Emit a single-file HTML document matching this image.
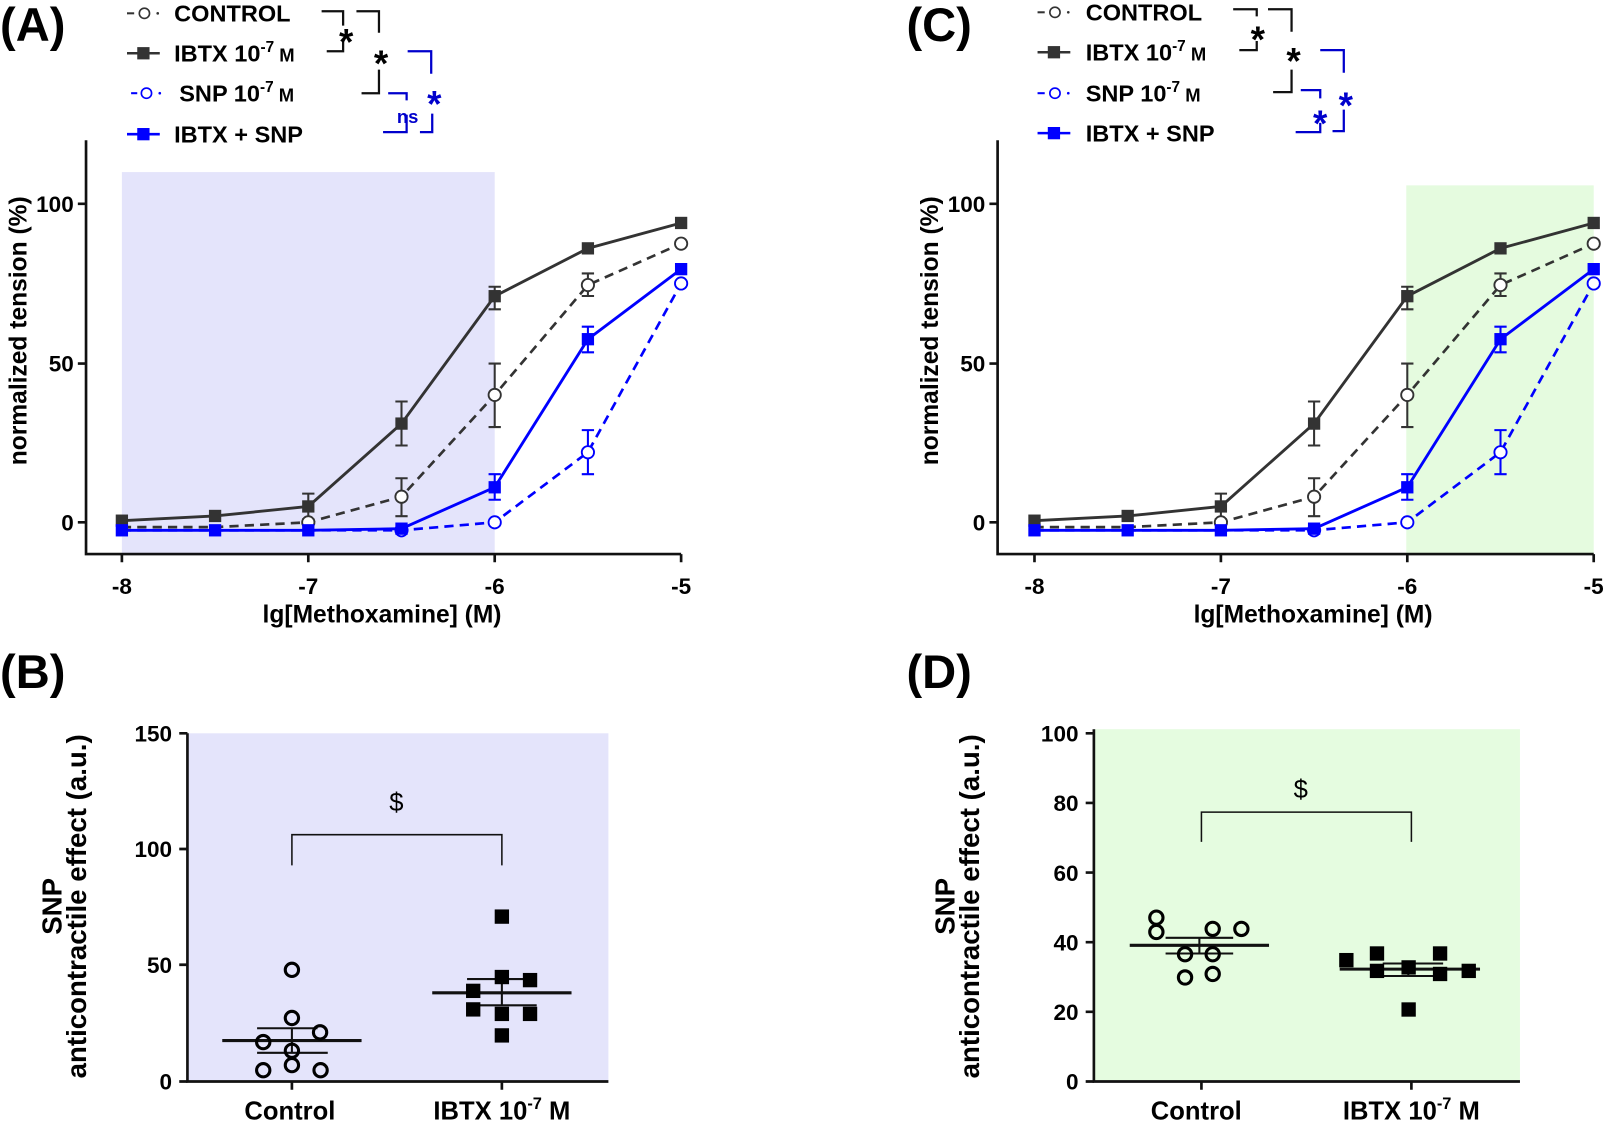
<!DOCTYPE html>
<html><head><meta charset="utf-8"><style>
html,body{margin:0;padding:0;background:#fff;}
svg{display:block;font-family:"Liberation Sans",Arial,sans-serif;font-weight:bold;}
</style></head><body>
<svg width="1606" height="1124" viewBox="0 0 1568 1097.5" preserveAspectRatio="none" xmlns="http://www.w3.org/2000/svg">
<text x="0" y="40" font-size="46">(A)</text>
<text x="0" y="672" font-size="46">(B)</text>
<text x="885" y="40" font-size="46">(C)</text>
<text x="885" y="672" font-size="46">(D)</text>

<rect x="119" y="168" width="364" height="373" fill="#e4e4fb"/>
<rect x="1373" y="181" width="183" height="360" fill="#e5fbdf"/>
<rect x="183" y="716" width="411" height="340" fill="#e4e4fb"/>
<rect x="1068" y="712" width="416" height="344" fill="#e5fce0"/>

<!-- ===== Panel A ===== -->
<g stroke="#111" stroke-width="2.6" fill="none">
<path d="M84,137 V541 H665"/>
<path d="M76,510 H84 M76,355 H84 M76,199 H84"/>
<path d="M119,541 V549 M301,541 V549 M483,541 V549 M665,541 V549"/>
</g>
<g font-size="22" text-anchor="end">
<text x="72" y="518">0</text><text x="72" y="363">50</text><text x="72" y="207">100</text>
</g>
<g font-size="22" text-anchor="middle">
<text x="119" y="580">-8</text><text x="301" y="580">-7</text><text x="483" y="580">-6</text><text x="665" y="580">-5</text>
<text x="373" y="608" font-size="24">lg[Methoxamine] (M)</text>
<text transform="translate(26,323) rotate(-90)" font-size="24">normalized tension (%)</text>
</g>

<g>
<g stroke="#333" stroke-width="2">
<path d="M392,435 V392 M386,435 H398 M386,392 H398"/>
<path d="M483,302 V280 M477,302 H489 M477,280 H489"/>
<path d="M301,507 V482 M295,507 H307 M295,482 H307"/>
<path d="M392,504 V467 M386,504 H398 M386,467 H398"/>
<path d="M483,417 V355 M477,417 H489 M477,355 H489"/>
<path d="M574,289 V267 M568,289 H580 M568,267 H580"/>
</g>
<g stroke="#0000ff" stroke-width="2">
<path d="M574,463 V420 M568,463 H580 M568,420 H580"/>
<path d="M483,488 V463 M477,488 H489 M477,463 H489"/>
<path d="M574,344 V319 M568,344 H580 M568,319 H580"/>
</g>
<polyline fill="none" stroke="#333" stroke-width="2.6" stroke-dasharray="9,6" points="119,514.7 210,514.7 301,510 392,485 483,385.6 574,278.3 665,237.9"/>
<polyline fill="none" stroke="#0000ff" stroke-width="2.6" stroke-dasharray="9,6" points="119,517.8 210,517.8 301,517.8 392,517.8 483,510 574,441.6 665,276.8"/>
<polyline fill="none" stroke="#333" stroke-width="2.8" points="119,508.4 210,503.8 301,494.5 392,413.6 483,289.2 574,242.5 665,217.7"/>
<polyline fill="none" stroke="#0000ff" stroke-width="2.8" points="119,517.8 210,517.8 301,517.8 392,516.2 483,475.8 574,331.2 665,262.8"/>
<g fill="#fff" stroke="#333" stroke-width="1.8">
<circle cx="301" cy="510" r="6"/><circle cx="392" cy="485" r="6"/><circle cx="483" cy="385.6" r="6"/><circle cx="574" cy="278.3" r="6"/><circle cx="665" cy="237.9" r="6"/>
</g>
<g fill="#fff" stroke="#0000ff" stroke-width="1.8">
<circle cx="392" cy="517.8" r="6"/><circle cx="483" cy="510" r="6"/><circle cx="574" cy="441.6" r="6"/><circle cx="665" cy="276.8" r="6"/>
</g>
<g fill="#333">
<rect x="113" y="502.4" width="12" height="12"/><rect x="204" y="497.8" width="12" height="12"/><rect x="295" y="488.5" width="12" height="12"/><rect x="386" y="407.6" width="12" height="12"/><rect x="477" y="283.2" width="12" height="12"/><rect x="568" y="236.5" width="12" height="12"/><rect x="659" y="211.7" width="12" height="12"/>
</g>
<g fill="#0000ff">
<rect x="113" y="511.8" width="12" height="12"/><rect x="204" y="511.8" width="12" height="12"/><rect x="295" y="511.8" width="12" height="12"/><rect x="386" y="510.2" width="12" height="12"/><rect x="477" y="469.8" width="12" height="12"/><rect x="568" y="325.2" width="12" height="12"/><rect x="659" y="256.8" width="12" height="12"/>
</g>
</g>

<!-- Legend A -->
<g font-size="23">
<path d="M124,13 H131" stroke="#333" stroke-width="2"/><circle cx="141" cy="13" r="5" fill="#fff" stroke="#333" stroke-width="1.6"/><circle cx="154" cy="13" r="1.3" fill="#333"/>
<text x="170" y="21">CONTROL</text>
<path d="M124,52 H156" stroke="#333" stroke-width="2.5"/><rect x="134" y="46" width="12" height="12" fill="#333"/>
<text x="170" y="60">IBTX 10<tspan font-size="15" dy="-9">-7</tspan><tspan font-size="18" dy="9"> M</tspan></text>
<path d="M128,91 H134" stroke="#0000ff" stroke-width="2"/><circle cx="143" cy="91" r="5" fill="#fff" stroke="#0000ff" stroke-width="1.6"/><circle cx="156" cy="91" r="1.3" fill="#0000ff"/>
<text x="175" y="99">SNP  10<tspan font-size="15" dy="-9">-7</tspan><tspan font-size="18" dy="9"> M</tspan></text>
<path d="M124,131 H156" stroke="#0000ff" stroke-width="2.5"/><rect x="134" y="125" width="12" height="12" fill="#0000ff"/>
<text x="170" y="139">IBTX + SNP</text>
</g>
<g fill="none" stroke="#111" stroke-width="2.2">
<path d="M314,11 H335 V25 M319,50 H335 V40"/>
<path d="M348,11 H370 V32 M353,91 H370 V68"/>
</g>
<g fill="none" stroke="#0000cc" stroke-width="2.2">
<path d="M398,50 H421 V72 M410,129 H422 V111"/>
<path d="M379,91 H397 V98 M374,129 H397 V112"/>
</g>
<text x="338" y="53" font-size="36" text-anchor="middle">*</text>
<text x="372" y="74" font-size="36" text-anchor="middle">*</text>
<text x="424" y="114" font-size="36" text-anchor="middle" fill="#0000cc">*</text>
<text x="398" y="120" font-size="18" text-anchor="middle" fill="#0000cc">ns</text>

<!-- ===== Panel C ===== -->
<g stroke="#111" stroke-width="2.6" fill="none">
<path d="M974,137 V541 H1556"/>
<path d="M966,510 H974 M966,355 H974 M966,199 H974"/>
<path d="M1010,541 V549 M1192,541 V549 M1374,541 V549 M1556,541 V549"/>
</g>
<g font-size="22" text-anchor="end">
<text x="962" y="518">0</text><text x="962" y="363">50</text><text x="962" y="207">100</text>
</g>
<g font-size="22" text-anchor="middle">
<text x="1010" y="580">-8</text><text x="1192" y="580">-7</text><text x="1374" y="580">-6</text><text x="1556" y="580">-5</text>
<text x="1282" y="608" font-size="24">lg[Methoxamine] (M)</text>
<text transform="translate(916,323) rotate(-90)" font-size="24">normalized tension (%)</text>
</g>
<g transform="translate(891,0)">
<g stroke="#333" stroke-width="2">
<path d="M392,435 V392 M386,435 H398 M386,392 H398"/>
<path d="M483,302 V280 M477,302 H489 M477,280 H489"/>
<path d="M301,507 V482 M295,507 H307 M295,482 H307"/>
<path d="M392,504 V467 M386,504 H398 M386,467 H398"/>
<path d="M483,417 V355 M477,417 H489 M477,355 H489"/>
<path d="M574,289 V267 M568,289 H580 M568,267 H580"/>
</g>
<g stroke="#0000ff" stroke-width="2">
<path d="M574,463 V420 M568,463 H580 M568,420 H580"/>
<path d="M483,488 V463 M477,488 H489 M477,463 H489"/>
<path d="M574,344 V319 M568,344 H580 M568,319 H580"/>
</g>
<polyline fill="none" stroke="#333" stroke-width="2.6" stroke-dasharray="9,6" points="119,514.7 210,514.7 301,510 392,485 483,385.6 574,278.3 665,237.9"/>
<polyline fill="none" stroke="#0000ff" stroke-width="2.6" stroke-dasharray="9,6" points="119,517.8 210,517.8 301,517.8 392,517.8 483,510 574,441.6 665,276.8"/>
<polyline fill="none" stroke="#333" stroke-width="2.8" points="119,508.4 210,503.8 301,494.5 392,413.6 483,289.2 574,242.5 665,217.7"/>
<polyline fill="none" stroke="#0000ff" stroke-width="2.8" points="119,517.8 210,517.8 301,517.8 392,516.2 483,475.8 574,331.2 665,262.8"/>
<g fill="#fff" stroke="#333" stroke-width="1.8">
<circle cx="301" cy="510" r="6"/><circle cx="392" cy="485" r="6"/><circle cx="483" cy="385.6" r="6"/><circle cx="574" cy="278.3" r="6"/><circle cx="665" cy="237.9" r="6"/>
</g>
<g fill="#fff" stroke="#0000ff" stroke-width="1.8">
<circle cx="392" cy="517.8" r="6"/><circle cx="483" cy="510" r="6"/><circle cx="574" cy="441.6" r="6"/><circle cx="665" cy="276.8" r="6"/>
</g>
<g fill="#333">
<rect x="113" y="502.4" width="12" height="12"/><rect x="204" y="497.8" width="12" height="12"/><rect x="295" y="488.5" width="12" height="12"/><rect x="386" y="407.6" width="12" height="12"/><rect x="477" y="283.2" width="12" height="12"/><rect x="568" y="236.5" width="12" height="12"/><rect x="659" y="211.7" width="12" height="12"/>
</g>
<g fill="#0000ff">
<rect x="113" y="511.8" width="12" height="12"/><rect x="204" y="511.8" width="12" height="12"/><rect x="295" y="511.8" width="12" height="12"/><rect x="386" y="510.2" width="12" height="12"/><rect x="477" y="469.8" width="12" height="12"/><rect x="568" y="325.2" width="12" height="12"/><rect x="659" y="256.8" width="12" height="12"/>
</g>
</g>

<!-- Legend C -->
<g font-size="23">
<path d="M1013,12 H1020" stroke="#333" stroke-width="2"/><circle cx="1030" cy="12" r="5" fill="#fff" stroke="#333" stroke-width="1.6"/><circle cx="1043" cy="12" r="1.3" fill="#333"/>
<text x="1060" y="20">CONTROL</text>
<path d="M1013,51 H1045" stroke="#333" stroke-width="2.5"/><rect x="1023" y="45" width="12" height="12" fill="#333"/>
<text x="1060" y="59">IBTX 10<tspan font-size="15" dy="-9">-7</tspan><tspan font-size="18" dy="9"> M</tspan></text>
<path d="M1013,91 H1020" stroke="#0000ff" stroke-width="2"/><circle cx="1030" cy="91" r="5" fill="#fff" stroke="#0000ff" stroke-width="1.6"/><circle cx="1043" cy="91" r="1.3" fill="#0000ff"/>
<text x="1060" y="99">SNP  10<tspan font-size="15" dy="-9">-7</tspan><tspan font-size="18" dy="9"> M</tspan></text>
<path d="M1013,130 H1045" stroke="#0000ff" stroke-width="2.5"/><rect x="1023" y="124" width="12" height="12" fill="#0000ff"/>
<text x="1060" y="138">IBTX + SNP</text>
</g>
<g fill="none" stroke="#111" stroke-width="2.2">
<path d="M1204,9 H1227 V16 M1210,49 H1227 V40"/>
<path d="M1238,9 H1261 V31 M1243,90 H1261 V68"/>
</g>
<g fill="none" stroke="#0000cc" stroke-width="2.2">
<path d="M1289,49 H1312 V71 M1301,128 H1312 V107"/>
<path d="M1270,88 H1289 V96 M1265,129 H1289 V120"/>
</g>
<text x="1228" y="51" font-size="36" text-anchor="middle">*</text>
<text x="1263" y="72" font-size="36" text-anchor="middle">*</text>
<text x="1314" y="115" font-size="36" text-anchor="middle" fill="#0000cc">*</text>
<text x="1289" y="133" font-size="36" text-anchor="middle" fill="#0000cc">*</text>

<!-- ===== Panel B ===== -->
<g stroke="#111" stroke-width="2.6" fill="none">
<path d="M183,716 V1056 H594"/>
<path d="M175,1056 H183 M175,942 H183 M175,829 H183 M175,716 H183"/>
<path d="M285,1056 V1064 M490,1056 V1064"/>
</g>
<g font-size="22" text-anchor="end">
<text x="168" y="1064">0</text><text x="168" y="950">50</text><text x="168" y="837">100</text><text x="168" y="724">150</text>
</g>
<g font-size="25" text-anchor="middle">
<text x="283" y="1093">Control</text>
<text x="490" y="1093">IBTX 10<tspan font-size="16" dy="-10">-7</tspan><tspan dy="10"> M</tspan></text>
<text transform="translate(60,885) rotate(-90)" font-size="27">SNP</text>
<text transform="translate(84,885) rotate(-90)" font-size="27">anticontractile effect (a.u.)</text>
</g>
<path d="M285,845 V815 H490 V845" fill="none" stroke="#111" stroke-width="1.5"/>
<text x="387" y="792" font-size="25" font-weight="normal" text-anchor="middle">$</text>
<g stroke="#111" fill="none">
<path d="M217,1016 H353" stroke-width="3"/>
<path d="M251,1004 H310 M251,1028 H320 M285,1004 V1028" stroke-width="2"/>
<path d="M422,969.4 H558" stroke-width="3"/>
<path d="M456,956 H524 M456,981.6 H524 M490,956 V981.6" stroke-width="2"/>
</g>
<g fill="none" stroke="#000" stroke-width="3">
<circle cx="285" cy="947" r="6.5"/><circle cx="285" cy="994" r="6.5"/><circle cx="312.5" cy="1008" r="6.5"/><circle cx="257" cy="1017.5" r="6.5"/><circle cx="285" cy="1026" r="6.5"/><circle cx="257" cy="1045" r="6.5"/><circle cx="285" cy="1040" r="6.5"/><circle cx="313" cy="1045" r="6.5"/>
</g>
<g fill="#000">
<rect x="483" y="888" width="14" height="14"/><rect x="483" y="947" width="14" height="14"/><rect x="510.5" y="950" width="14" height="14"/><rect x="455" y="960.5" width="14" height="14"/><rect x="455" y="978.6" width="14" height="14"/><rect x="483" y="983" width="14" height="14"/><rect x="510.5" y="983" width="14" height="14"/><rect x="483" y="1004" width="14" height="14"/>
</g>

<!-- ===== Panel D ===== -->
<g stroke="#111" stroke-width="2.6" fill="none">
<path d="M1068,712 V1056 H1484"/>
<path d="M1060,1056 H1068 M1060,988 H1068 M1060,920 H1068 M1060,852 H1068 M1060,784 H1068 M1060,716 H1068"/>
<path d="M1173,1056 V1064 M1378,1056 V1064"/>
</g>
<g font-size="22" text-anchor="end">
<text x="1053" y="1064">0</text><text x="1053" y="996">20</text><text x="1053" y="928">40</text><text x="1053" y="860">60</text><text x="1053" y="792">80</text><text x="1053" y="724">100</text>
</g>
<g font-size="25" text-anchor="middle">
<text x="1168" y="1093">Control</text>
<text x="1378" y="1093">IBTX 10<tspan font-size="16" dy="-10">-7</tspan><tspan dy="10"> M</tspan></text>
<text transform="translate(932,885) rotate(-90)" font-size="27">SNP</text>
<text transform="translate(956,885) rotate(-90)" font-size="27">anticontractile effect (a.u.)</text>
</g>
<path d="M1173,822 V793 H1378 V822" fill="none" stroke="#111" stroke-width="1.5"/>
<text x="1270" y="779" font-size="25" font-weight="normal" text-anchor="middle">$</text>
<g stroke="#111" fill="none">
<path d="M1103,923 H1239" stroke-width="3"/>
<path d="M1138,915.7 H1204 M1138,931 H1204 M1171,915.7 V931" stroke-width="2"/>
<path d="M1308,946.3 H1445" stroke-width="3"/>
<path d="M1350,940.8 H1409 M1350,953 H1409 M1375,940.8 V953" stroke-width="2"/>
</g>
<g fill="none" stroke="#000" stroke-width="3">
<circle cx="1129" cy="896" r="6.5"/><circle cx="1129" cy="910" r="6.5"/><circle cx="1184" cy="907" r="6.5"/><circle cx="1212" cy="907" r="6.5"/><circle cx="1157" cy="931.7" r="6.5"/><circle cx="1184" cy="931.7" r="6.5"/><circle cx="1157" cy="954.4" r="6.5"/><circle cx="1184" cy="951" r="6.5"/>
</g>
<g fill="#000">
<rect x="1307.5" y="930.5" width="14" height="14"/><rect x="1337.4" y="924" width="14" height="14"/><rect x="1399" y="924" width="14" height="14"/><rect x="1337.4" y="941" width="14" height="14"/><rect x="1368.3" y="937.6" width="14" height="14"/><rect x="1399" y="944" width="14" height="14"/><rect x="1427" y="941" width="14" height="14"/><rect x="1368.3" y="978.7" width="14" height="14"/>
</g>
</svg>
</body></html>
